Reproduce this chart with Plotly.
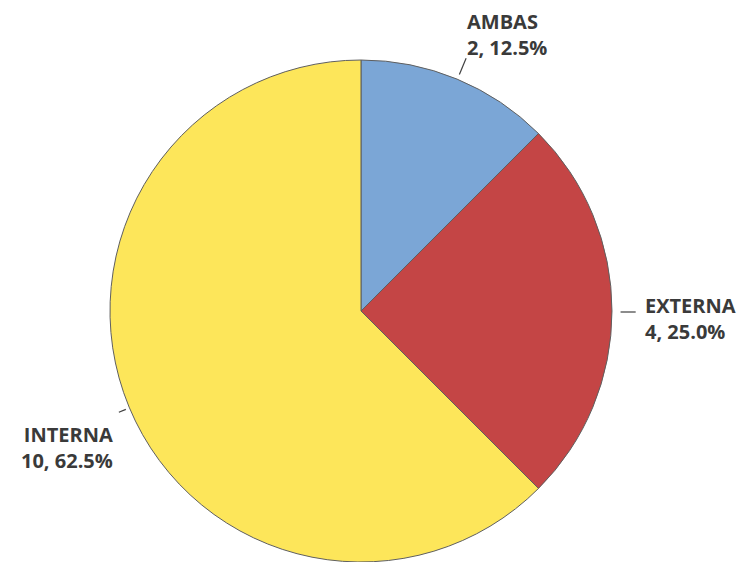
import math
import plotly.graph_objects as go

# Slice data, in drawing order (clockwise from 12 o'clock)
labels = ["AMBAS", "EXTERNA", "INTERNA"]
counts = [2, 4, 10]
colors = ["#7BA6D6", "#C44545", "#FDE65A"]

W, H = 748, 562
cx, cy, r = 361, 312, 252  # pie centre and radius in pixels (from top-left)

fig = go.Figure(go.Pie(
    labels=labels,
    values=counts,
    sort=False,
    direction="clockwise",
    rotation=0,
    textinfo="none",
    hoverinfo="label+value+percent",
    marker=dict(colors=colors, line=dict(color="#5f5f5f", width=1)),
    domain=dict(x=[(cx - r) / W, (cx + r) / W], y=[max(0, (H - cy - r) / H), (H - cy + r) / H]),
    showlegend=False,
))

total = sum(counts)
font = dict(family="Open Sans", size=20, color="#3a3a3a", weight=700)

# label placement for each slice: (text x, text y, anchor)
label_pos = {
    "AMBAS": (465, 34, "left"),
    "EXTERNA": (643, 318, "left"),
    "INTERNA": (115, 447, "right"),
}
leader = {
    "AMBAS": (1.02, 1.09),
    "EXTERNA": (1.03, 1.09),
    "INTERNA": (1.01, 1.04),
}

def to_paper(px, py):
    return px / W, 1 - py / H

cum = 0
for lab, n in zip(labels, counts):
    mid = (cum + n / 2) / total * 2 * math.pi
    cum += n
    sx, sy = math.sin(mid), -math.cos(mid)
    r0, r1 = leader[lab]
    x0, y0 = to_paper(cx + r * r0 * sx, cy + r * r0 * sy)
    x1, y1 = to_paper(cx + r * r1 * sx, cy + r * r1 * sy)
    fig.add_shape(type="line", xref="paper", yref="paper", x0=x0, y0=y0, x1=x1, y1=y1,
                  line=dict(color="#404040", width=1.2))
    tx, ty, anchor = label_pos[lab]
    px, py = to_paper(tx, ty)
    fig.add_annotation(
        x=px, y=py, xref="paper", yref="paper",
        text=f"{lab}<br>{n}, {n / total * 100:.1f}%",
        showarrow=False, xanchor=anchor, yanchor="middle", align=anchor,
        font=font,
    )

fig.update_layout(
    width=W, height=H,
    margin=dict(l=0, r=0, t=0, b=0),
    paper_bgcolor="white", plot_bgcolor="white",
)

fig.write_html("out.html")
